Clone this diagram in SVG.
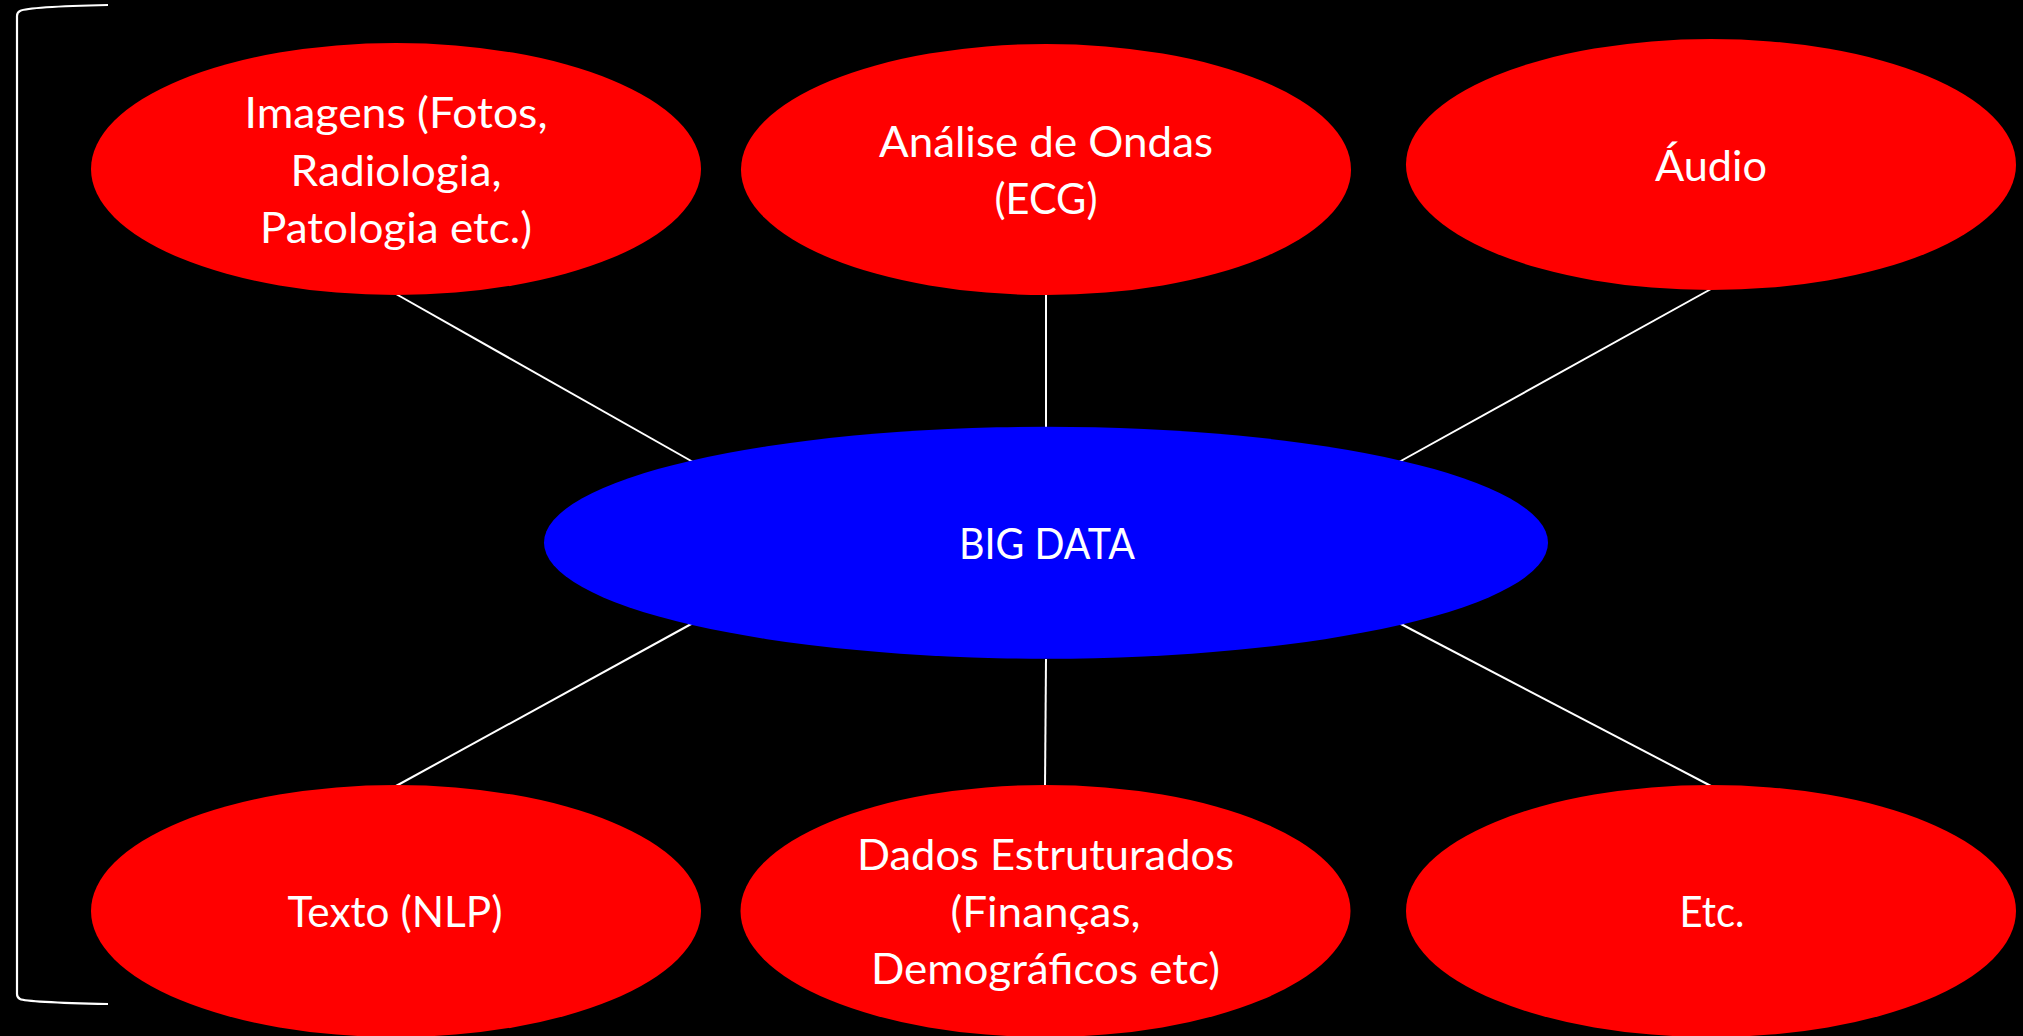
<svg xmlns="http://www.w3.org/2000/svg" width="2023" height="1036" viewBox="0 0 2023 1036">
<style>
.bg{fill:#000000}
.leaf{fill:#ff0000}
.hub{fill:#0000ff}
.conn{stroke:#ffffff;stroke-width:2;fill:none}
.brk{stroke:#ffffff;stroke-width:2.2;fill:none}
text{font-family:Lato,"Open Sans","Liberation Sans",sans-serif;font-size:42px;fill:#ffffff;text-anchor:middle}
</style>
<rect class="bg" x="0" y="0" width="2023" height="1036"/>
<path id="bracket" class="brk" d="M108,5 C60,6 26,8 20,11 Q17,12.5 17,16 L17,994 Q17,997.5 20,999 C26,1002 60,1003 108,1004"/>
<g id="connectors">
<line class="conn" x1="396" y1="294" x2="693" y2="462"/>
<line class="conn" x1="1046" y1="295" x2="1046" y2="428"/>
<line class="conn" x1="1711" y1="289" x2="1399" y2="462"/>
<line class="conn" x1="693" y1="623" x2="396" y2="786"/>
<line class="conn" x1="1046" y1="659" x2="1045" y2="786"/>
<line class="conn" x1="1399" y1="623" x2="1711" y2="786"/>
</g>
<g id="node-imagens">
<ellipse class="leaf" cx="396" cy="169" rx="305" ry="126"/>
<text x="396" y="128" textLength="303" lengthAdjust="spacingAndGlyphs">Imagens (Fotos,</text>
<text x="396" y="186" textLength="211" lengthAdjust="spacingAndGlyphs">Radiologia,</text>
<text x="396" y="243" textLength="272" lengthAdjust="spacingAndGlyphs">Patologia etc.)</text>
</g>
<g id="node-ondas">
<ellipse class="leaf" cx="1046" cy="169.5" rx="305" ry="125.5"/>
<text x="1046" y="157" textLength="334" lengthAdjust="spacingAndGlyphs">Análise de Ondas</text>
<text x="1046" y="214" textLength="103" lengthAdjust="spacingAndGlyphs">(ECG)</text>
</g>
<g id="node-audio">
<ellipse class="leaf" cx="1711" cy="164.5" rx="305" ry="125.5"/>
<text x="1711" y="181" textLength="112" lengthAdjust="spacingAndGlyphs">Áudio</text>
</g>
<g id="node-bigdata">
<ellipse class="hub" cx="1046" cy="542.7" rx="502" ry="116"/>
<text x="1047" y="559" textLength="176" lengthAdjust="spacingAndGlyphs">BIG DATA</text>
</g>
<g id="node-texto">
<ellipse class="leaf" cx="396" cy="911" rx="305" ry="126"/>
<text x="395" y="927" textLength="215" lengthAdjust="spacingAndGlyphs">Texto (NLP)</text>
</g>
<g id="node-dados">
<ellipse class="leaf" cx="1045.5" cy="911" rx="305" ry="126"/>
<text x="1045.5" y="870" textLength="377" lengthAdjust="spacingAndGlyphs">Dados Estruturados</text>
<text x="1045.5" y="927" textLength="190" lengthAdjust="spacingAndGlyphs">(Finanças,</text>
<text x="1045.5" y="984" textLength="349" lengthAdjust="spacingAndGlyphs">Demográficos etc)</text>
</g>
<g id="node-etc">
<ellipse class="leaf" cx="1711" cy="911" rx="305" ry="126"/>
<text x="1712" y="927" textLength="65" lengthAdjust="spacingAndGlyphs">Etc.</text>
</g>
</svg>
